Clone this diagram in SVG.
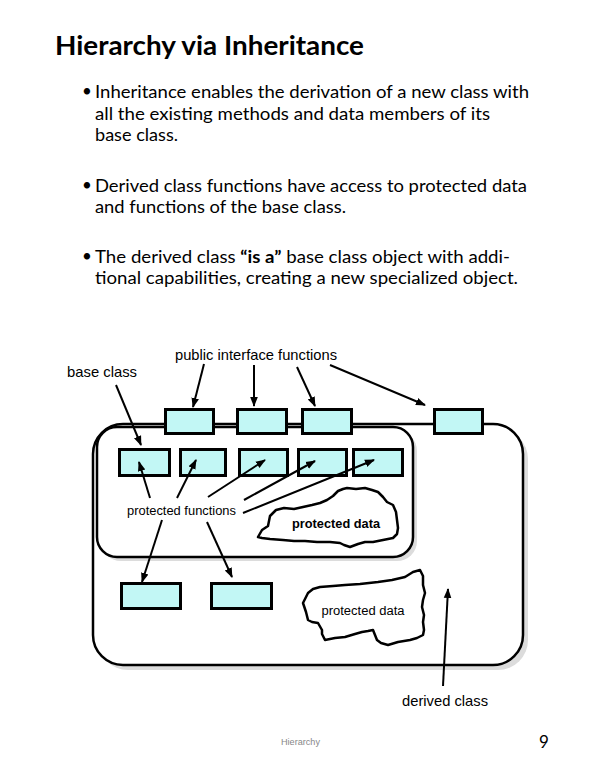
<svg xmlns="http://www.w3.org/2000/svg" width="598" height="778" viewBox="0 0 598 778">
<defs>
<marker id="ah" viewBox="0 0 10 10" refX="9" refY="5" markerWidth="10" markerHeight="10" markerUnits="userSpaceOnUse" orient="auto"><path d="M0,1.2 L10,5 L0,8.8 z" fill="#000"/></marker>
<style>
.title{font-family:Lato,"Open Sans",sans-serif;font-size:27px;font-weight:bold;fill:#000}
.body{font-family:Lato,"Open Sans",sans-serif;font-size:17px;fill:#000}
.lbl{font-family:"Liberation Sans",Arial,sans-serif;fill:#000}
.box{fill:#c2f7f5;stroke:#000;stroke-width:3}
.frame{fill:#fff;stroke:#000;stroke-width:2.5}
.shadow{fill:#dcdcdc}
.cloud{fill:#fff;stroke:#000;stroke-width:2.5;stroke-linejoin:round}
.arr{stroke:#000;stroke-width:2;fill:none;marker-end:url(#ah)}
</style>
</defs>
<rect width="598" height="778" fill="#fff"/>
<text class="title" x="55" y="55" textLength="309" lengthAdjust="spacingAndGlyphs">Hierarchy via Inheritance</text>
<g id="bullets">
<text class="body" x="82" y="97">•</text>
<text class="body" x="95" y="98" textLength="434" lengthAdjust="spacingAndGlyphs">Inheritance enables the derivation of a new class with</text>
<text class="body" x="95" y="120" textLength="395" lengthAdjust="spacingAndGlyphs">all the existing methods and data members of its</text>
<text class="body" x="95" y="141" textLength="83" lengthAdjust="spacingAndGlyphs">base class.</text>
<text class="body" x="82" y="191">•</text>
<text class="body" x="95" y="192" textLength="432" lengthAdjust="spacingAndGlyphs">Derived class functions have access to protected data</text>
<text class="body" x="95" y="213" textLength="251" lengthAdjust="spacingAndGlyphs">and functions of the base class.</text>
<text class="body" x="82" y="262">•</text>
<text class="body" x="95" y="263" textLength="415" lengthAdjust="spacingAndGlyphs">The derived class <tspan font-weight="bold">“is a”</tspan> base class object with addi-</text>
<text class="body" x="95" y="284" textLength="423" lengthAdjust="spacingAndGlyphs">tional capabilities, creating a new specialized object.</text>
</g>
<g id="derived-class">
<rect class="shadow" x="98" y="429" width="430" height="241" rx="30"/>
<rect class="frame" x="93" y="424" width="430" height="241" rx="30"/>
</g>
<g id="base-class">
<rect class="shadow" x="101" y="431" width="316" height="130" rx="20"/>
<rect class="frame" x="97" y="427" width="316" height="130" rx="20"/>
</g>
<g id="public-functions">
<rect class="box" x="165.5" y="409.5" width="48" height="24"/>
<rect class="box" x="237.5" y="409.5" width="49" height="24"/>
<rect class="box" x="302.5" y="409.5" width="49" height="24"/>
<rect class="box" x="434.5" y="409.5" width="48" height="24"/>
</g>
<g id="protected-functions">
<rect class="box" x="119.5" y="449.5" width="50" height="26"/>
<rect class="box" x="180.5" y="449.5" width="45" height="26"/>
<rect class="box" x="239.5" y="449.5" width="48" height="26"/>
<rect class="box" x="298.5" y="449.5" width="48" height="26"/>
<rect class="box" x="353.5" y="449.5" width="49" height="26"/>
</g>
<g id="derived-functions">
<rect class="box" x="121.5" y="583.5" width="59" height="25"/>
<rect class="box" x="211.5" y="583.5" width="60" height="25"/>
</g>
<g id="protected-data-base">
<path class="cloud" d="M258,537 L262,530 L268,526 L270,516 L276,510 L284,508 L294,509 L303,507 L312,505 L320,503 L327,500 L333,496 L338,491 L343,489 L347,488 L356,489 L365,488 L372,490 L378,492 L383,497 L387,502 L393,505 L396,512 L397,520 L398,528 L397,534 L393,538 L383,540 L373,542 L365,542 L358,544 L350,547 L344,545 L340,543 L330,542 L317,542 L305,541 L294,541 L283,540 L270,539 L262,538 Z"/>
<text class="lbl" x="336" y="528" font-size="12.5" font-weight="bold" text-anchor="middle" textLength="88" lengthAdjust="spacingAndGlyphs">protected data</text>
</g>
<g id="protected-data-derived">
<path class="cloud" d="M308,593 L313,589 L320,587 L333,586 L345,585 L360,584 L378,582 L392,580 L405,577 L413,572 L420,570 L423,576 L423,585 L425,593 L423,600 L422,607 L424,615 L423,622 L424,630 L423,635 L417,638 L410,640 L398,642 L388,645 L381,643 L377,640 L375,635 L373,630 L368,631 L362,632 L355,634 L345,637 L335,638 L325,640 L322,634 L322,630 L318,623 L312,622 L308,620 L306,612 L303,603 Z"/>
<text class="lbl" x="363" y="615" font-size="12" text-anchor="middle" textLength="83" lengthAdjust="spacingAndGlyphs">protected data</text>
</g>
<g id="connectors">
<line class="arr" x1="116" y1="385" x2="141" y2="445"/>
<line class="arr" x1="204" y1="364" x2="193" y2="407"/>
<line class="arr" x1="254" y1="365" x2="254" y2="406"/>
<line class="arr" x1="297" y1="367" x2="315" y2="406"/>
<line class="arr" x1="330" y1="365" x2="425" y2="405"/>
<line class="arr" x1="150" y1="498" x2="139" y2="462"/>
<line class="arr" x1="177" y1="498" x2="196" y2="460"/>
<line class="arr" x1="208" y1="497" x2="265" y2="460"/>
<line class="arr" x1="244" y1="500" x2="315" y2="461"/>
<line class="arr" x1="243" y1="513" x2="374" y2="460"/>
<line class="arr" x1="162" y1="520" x2="142" y2="582"/>
<line class="arr" x1="207" y1="522" x2="232" y2="577"/>
<line class="arr" x1="443" y1="686" x2="448" y2="589"/>
</g>
<g id="labels">
<text class="lbl" x="67" y="377" font-size="14.5" textLength="70" lengthAdjust="spacingAndGlyphs">base class</text>
<text class="lbl" x="175" y="360" font-size="14.5" textLength="162" lengthAdjust="spacingAndGlyphs">public interface functions</text>
<text class="lbl" x="127" y="515" font-size="12.5" textLength="109" lengthAdjust="spacingAndGlyphs">protected functions</text>
<text class="lbl" x="402" y="706" font-size="14.5" textLength="86" lengthAdjust="spacingAndGlyphs">derived class</text>
</g>
<text x="281" y="745" font-family="'Liberation Sans',Arial,sans-serif" font-size="9.5" fill="#888" textLength="39" lengthAdjust="spacingAndGlyphs">Hierarchy</text>
<text x="539" y="748" font-family="Lato,'Open Sans',sans-serif" font-size="17" fill="#000">9</text>
</svg>
